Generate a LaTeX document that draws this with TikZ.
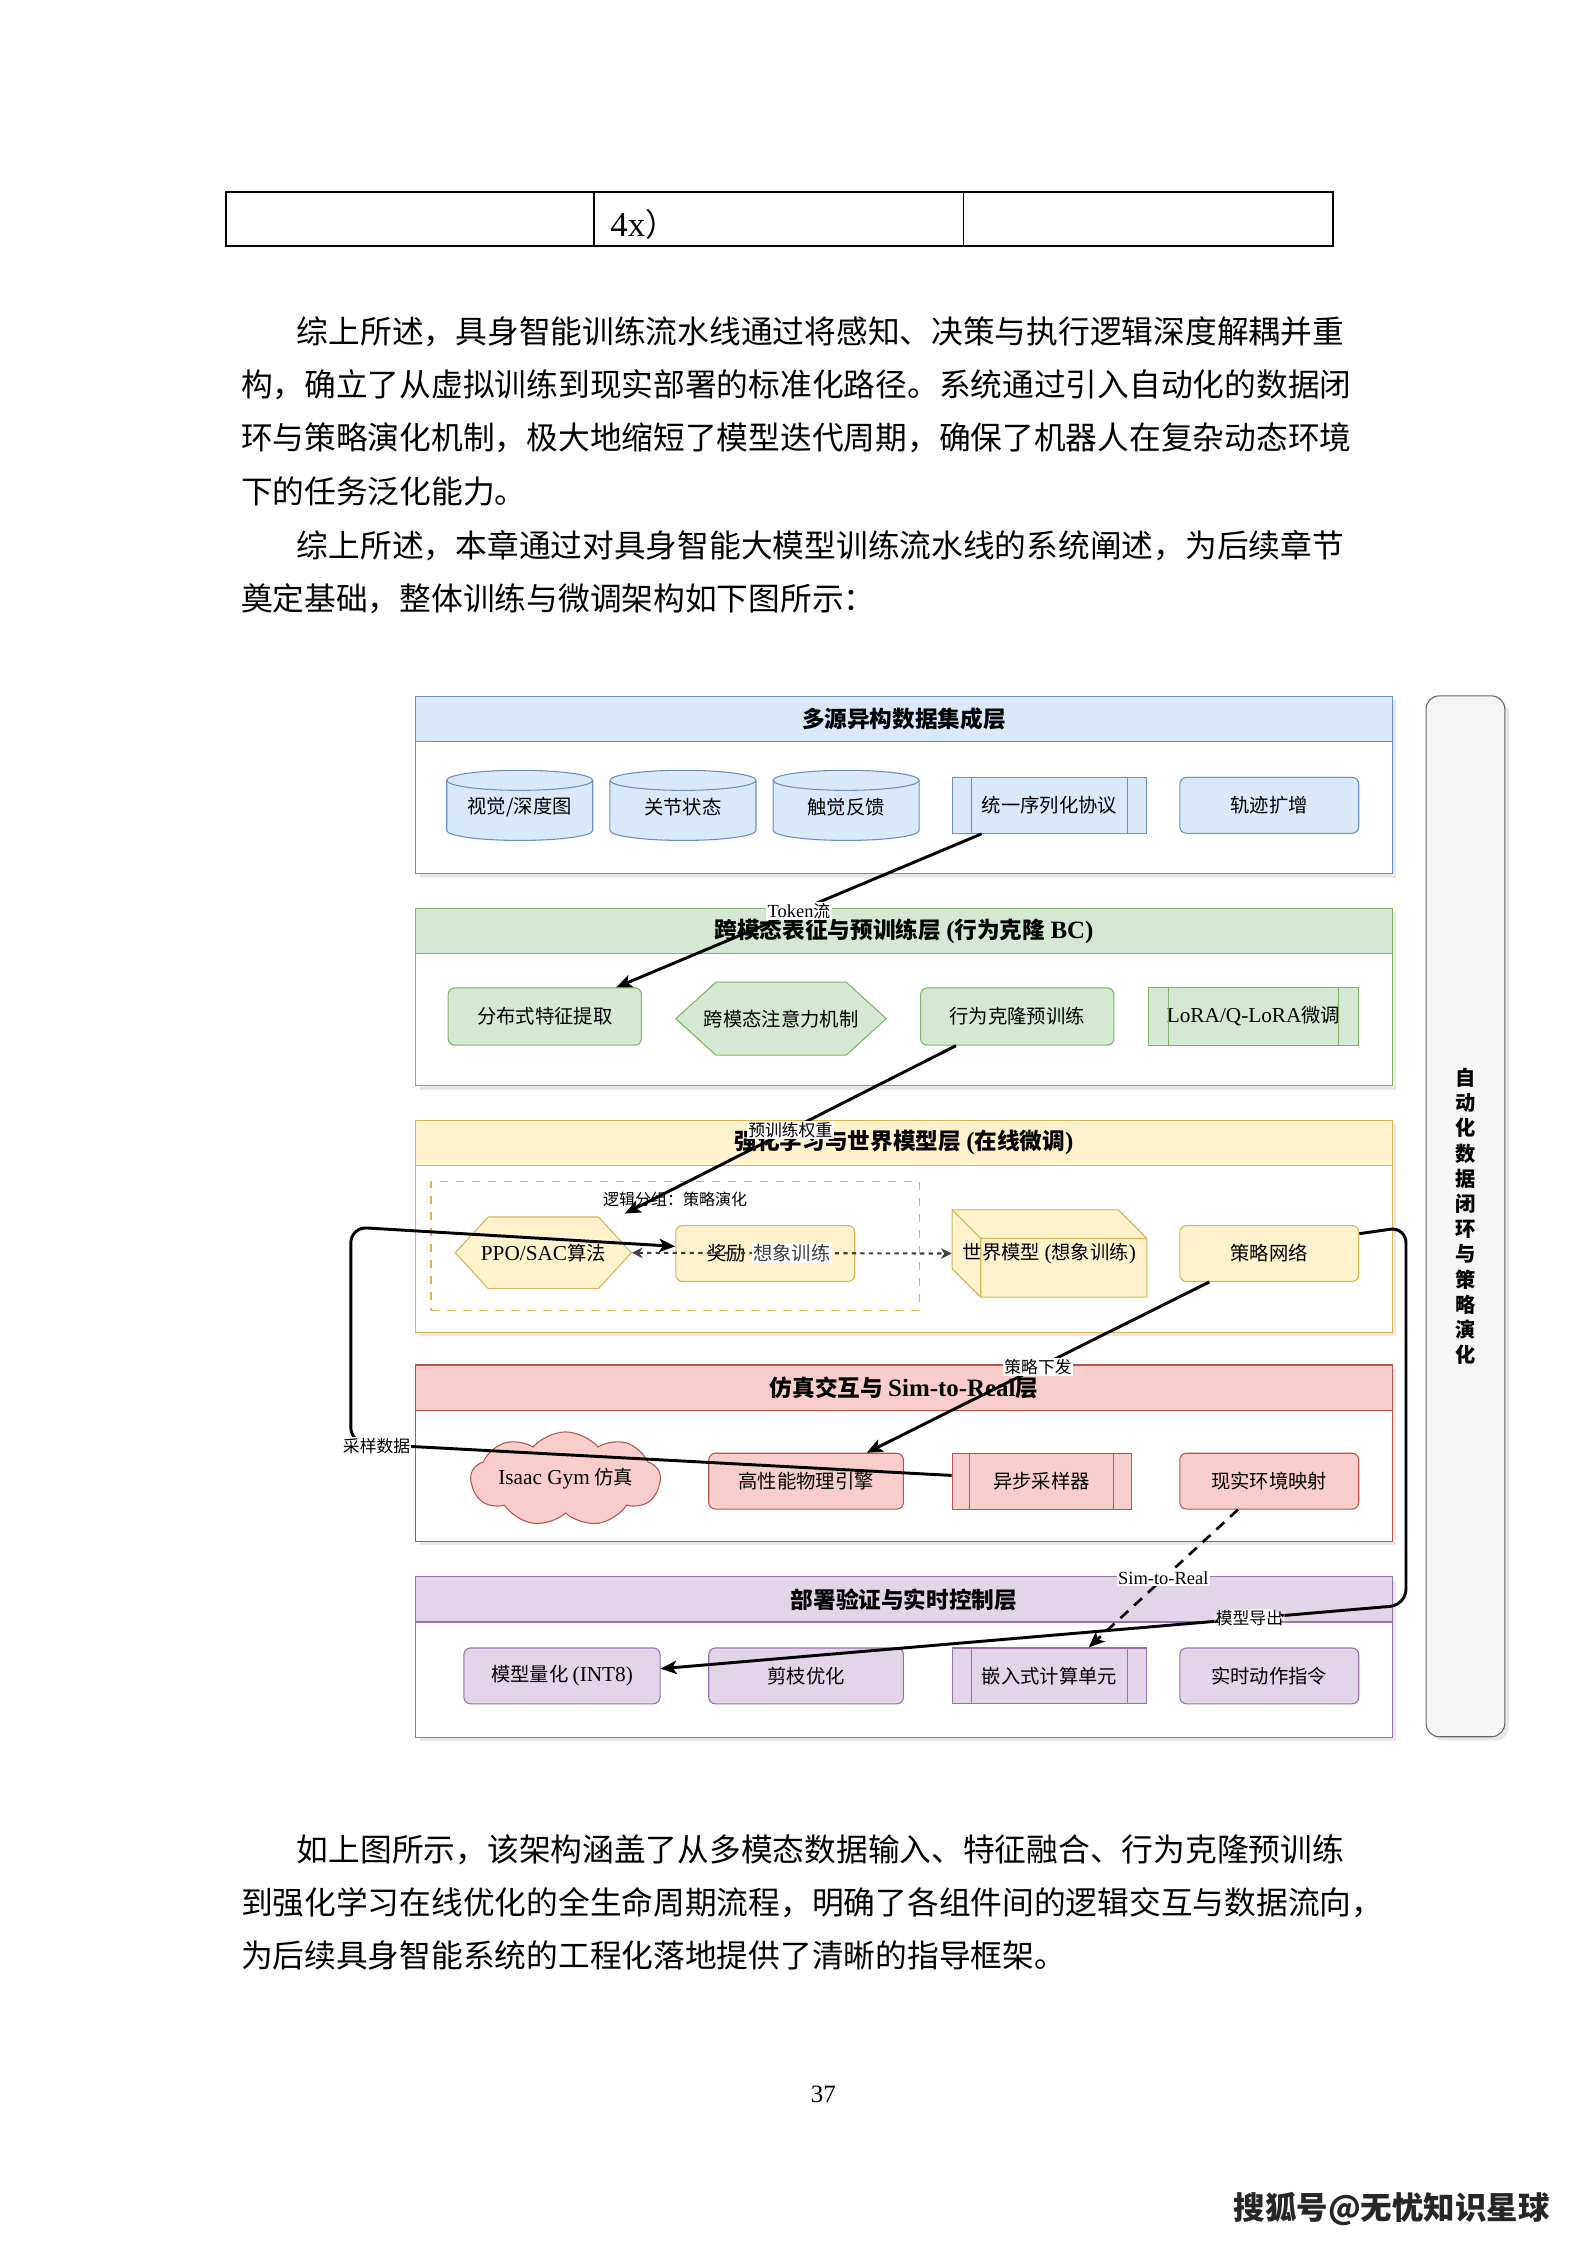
\documentclass[tikz,border=0pt]{standalone}
\usepackage{fontspec}
\setmainfont{Noto Sans CJK SC}
\newfontfamily\lat{Liberation Serif}[Scale=1.1]
\usepackage{tikz}
\usetikzlibrary{positioning,arrows.meta,shapes.symbols,calc,shadows}

\definecolor{bluF}{HTML}{DAE8FC}\definecolor{bluD}{HTML}{6C8EBF}
\definecolor{grnF}{HTML}{D5E8D4}\definecolor{grnD}{HTML}{82B366}
\definecolor{ylwF}{HTML}{FFF2CC}\definecolor{ylwD}{HTML}{D6B656}
\definecolor{redF}{HTML}{F8CECC}\definecolor{redD}{HTML}{B85450}
\definecolor{prpF}{HTML}{E1D5E7}\definecolor{prpD}{HTML}{9673A6}
\definecolor{sideF}{HTML}{F5F5F5}\definecolor{sideD}{HTML}{666666}

% data drum: name, x, y, text
\newcommand{\drum}[4]{%
  \filldraw[fill=bluF, draw=bluD] (#2-51,#3-17.5) arc (180:360:51 and 7) -- (#2+51,#3+17.5) arc (0:180:51 and 7) -- cycle;
  \draw[bluD] (#2-51,#3-17.5) arc (180:0:51 and 7);
  \node[sz={102}{49}] (#1) at (#2,#3+1.5) {#4};}
% hexagon: name, x, y, half width, half height, inset, fill, draw, text
\newcommand{\hexa}[9]{%
  \filldraw[fill=#7, draw=#8] (#2-#4,#3) -- (#2-#4+#6,#3-#5) -- (#2+#4-#6,#3-#5) -- (#2+#4,#3)
    -- (#2+#4-#6,#3+#5) -- (#2-#4+#6,#3+#5) -- cycle;
  \node[sz={2*#4}{2*#5}] (#1) at (#2,#3) {#9};}

\begin{document}
\begin{tikzpicture}[
    x=0.537pt, y=-0.537pt,
    every node/.style={font=\fontsize{7.25}{9}\selectfont, inner sep=0pt},
    sz/.style 2 args={minimum width=#1*0.537pt, minimum height=#2*0.537pt},
    txt/.style={anchor=west, font=\fontsize{11.9}{14}\selectfont},
    layer/.style={draw=#1, fill=white, anchor=north west,
                  drop shadow={shadow xshift=1.5pt, shadow yshift=-1.5pt, opacity=0.18}},
    head/.style={anchor=north west, sz={682}{31.5}, font=\fontsize{8.5}{10}\selectfont\bfseries},
    rbox/.style={draw, rounded corners=2.5pt},
    proc/.style={draw},
    lbl/.style={fill=white, font=\fontsize{6.3}{7}\selectfont, inner sep=0.5pt},
    arr/.style={-{Stealth[length=6pt, width=5pt, inset=1.5pt]}, line width=1.1pt},
    dots/.style={dash pattern=on 1.6pt off 1.6pt, line width=0.8pt, black!75}
]
\useasboundingbox[fill=white] (0,0) rectangle (1108,1568);

% page text above the figure
\draw[line width=0.6pt] (158,134) rectangle (931,172) (415,134) -- (415,172) (673,134) -- (673,172);
\node[txt] (cell) at (426,157) {{\lat 4x}）};
\node[txt] (p1a) at (207,232) {综上所述，具身智能训练流水线通过将感知、决策与执行逻辑深度解耦并重};
\node[txt] (p1b) at (168,269) {构，确立了从虚拟训练到现实部署的标准化路径。系统通过引入自动化的数据闭};
\node[txt] (p1c) at (168,306) {环与策略演化机制，极大地缩短了模型迭代周期，确保了机器人在复杂动态环境};
\node[txt] (p1d) at (168,343) {下的任务泛化能力。};
\node[txt] (p2a) at (207,381) {综上所述，本章通过对具身智能大模型训练流水线的系统阐述，为后续章节};
\node[txt] (p2b) at (168,418) {奠定基础，整体训练与微调架构如下图所示：};

% layers
\node[layer=bluD, sz={682}{124}] (L1) at (290,486) {};
\node[head, draw=bluD, fill=bluF] (L1h) at (290,486) {多源异构数据集成层};
\node[layer=grnD, sz={682}{124}] (L2) at (290,634) {};
\node[head, draw=grnD, fill=grnF] (L2h) at (290,634) {跨模态表征与预训练层 {\lat (}行为克隆 {\lat BC)}};
\node[layer=ylwD, sz={682}{148}] (L3) at (290,782) {};
\node[head, draw=ylwD, fill=ylwF] (L3h) at (290,782) {强化学习与世界模型层 {\lat (}在线微调{\lat )}};
\node[layer=redD, sz={682}{123}] (L4) at (290,953) {};
\node[head, draw=redD, fill=redF] (L4h) at (290,953) {仿真交互与 {\lat Sim-to-Real}层};
\node[layer=prpD, sz={682}{112}] (L5) at (290,1101) {};
\node[head, draw=prpD, fill=prpF] (L5h) at (290,1101) {部署验证与实时控制层};

\node[draw=sideD, fill=sideF, rounded corners=5pt, sz={55}{727}, align=center,
      font=\fontsize{7.6}{9.45}\selectfont\bfseries,
      drop shadow={shadow xshift=1.5pt, shadow yshift=-1.5pt, opacity=0.18}] (loop) at (1023.5,849.5)
      {自\\动\\化\\数\\据\\闭\\环\\与\\策\\略\\演\\化};

% layer 1
\drum{vis}{363}{562.5}{视觉/深度图}
\drum{joint}{477}{562.5}{关节状态}
\drum{touch}{591}{562.5}{触觉反馈}
\node[proc, draw=bluD, fill=bluF, sz={136}{39}] (seq) at (733,562.5) {统一序列化协议};
\node[rbox, draw=bluD, fill=bluF, sz={125}{39}] (aug) at (886.5,562.5) {轨迹扩增};

% layer 2
\node[rbox, draw=grnD, fill=grnF, sz={135}{40}] (feat) at (380.5,710) {分布式特征提取};
\hexa{attn}{545.5}{711.5}{73.5}{25.5}{28}{grnF}{grnD}{跨模态注意力机制}
\node[rbox, draw=grnD, fill=grnF, sz={135}{40}] (bc) at (710.5,710) {行为克隆预训练};
\node[proc, draw=grnD, fill=grnF, sz={147}{40}] (lora) at (875.5,710) {{\lat LoRA/Q-LoRA}微调};

% layer 3
\node[draw=ylwD, dashed, sz={341}{90}] (grp) at (471.5,870) {};
\node[font=\fontsize{6}{7}\selectfont] (grpl) at ($(grp.north)+(0,13)$) {逻辑分组：策略演化};
\hexa{ppo}{379.5}{875}{61.5}{25}{23}{ylwF}{ylwD}{{\lat PPO/SAC}算法}
\node[rbox, draw=ylwD, fill=ylwF, sz={125}{39}] (rew) at (534.5,875.5) {奖励\phantom{想象训练}};
\filldraw[fill=ylwF, draw=ylwD] (665,845) -- (781,845) -- (801,865) -- (801,906) -- (685,906) -- (665,886) -- cycle;
\draw[ylwD] (665,845) -- (685,865) -- (801,865) (685,865) -- (685,906);
\node[sz={136}{61}] (wm) at (733,875.5) {世界模型 {\lat (}想象训练{\lat )}};
\node[rbox, draw=ylwD, fill=ylwF, sz={125}{39}] (pol) at (886.5,875.5) {策略网络};

% layer 4
\node[cloud, cloud puffs=9, cloud puff arc=100, aspect=2.8, draw=redD, fill=redF, sz={108}{32}] (isaac) at (395,1033) {{\lat Isaac Gym} 仿真};
\node[rbox, draw=redD, fill=redF, sz={136}{39}] (phy) at (563,1034.5) {高性能物理引擎};
\node[proc, draw=redD, fill=redF, sz={125}{39}] (samp) at (727.5,1034.5) {异步采样器};
\node[rbox, draw=redD, fill=redF, sz={125}{39}] (real) at (886.5,1034.5) {现实环境映射};

% layer 5
\node[rbox, draw=prpD, fill=prpF, sz={137}{39}] (quant) at (392.5,1170.5) {模型量化 {\lat (INT8)}};
\node[rbox, draw=prpD, fill=prpF, sz={136}{39}] (prune) at (563,1170.5) {剪枝优化};
\node[proc, draw=prpD, fill=prpF, sz={136}{39}] (emb) at (733,1170.5) {嵌入式计算单元};
\node[rbox, draw=prpD, fill=prpF, sz={125}{39}] (act) at (886.5,1170.5) {实时动作指令};

% inner bars of the process boxes
\foreach \n/\c in {seq/bluD, lora/grnD, samp/redD, emb/prpD}{
  \draw[\c] ($(\n.north west)!0.1!(\n.north east)$) -- ($(\n.south west)!0.1!(\n.south east)$);
  \draw[\c] ($(\n.north east)!0.1!(\n.north west)$) -- ($(\n.south east)!0.1!(\n.south west)$);
}

% connectors
\draw[arr] ($(seq.south west)+(21,0)$) -- node[lbl]{{\lat Token}流} ($(feat.north east)+(-18,0)$);
\draw[arr] ($(bc.south west)+(25,0)$) -- node[lbl]{预训练权重} ($(ppo.north east)+(-5,-2)$);
\draw[dots, {Stealth[length=4pt, width=4pt]}-{Stealth[length=4pt, width=4pt]}] (ppo.east) -- node[fill=white, inner sep=0.5pt]{想象训练} (wm.west);
\draw[arr] ($(pol.south west)+(21,0)$) -- node[lbl]{策略下发} ($(phy.north east)+(-26,0)$);
\draw[arr, line width=1pt, dash pattern=on 4pt off 3pt] ($(real.south west)+(41,0)$) -- node[lbl]{{\lat Sim-to-Real}} ($(emb.north east)+(-41,0)$);

\coordinate (sw) at (245,1008);
\coordinate (nw) at (245,857);
\draw[arr, rounded corners=6pt] ($(samp.west)+(0,-4)$) -- (sw) -- (nw) -- ($(rew.west)+(0,-5)$);
\node[lbl] (samplbl) at (263,1010) {采样数据};

\coordinate (ne) at (982,857);
\coordinate (se) at (982,1121);
\draw[arr, rounded corners=6pt] ($(pol.north east)+(0,6)$) -- (ne) -- (se) -- node[lbl, pos=0.21]{模型导出} ($(quant.east)+(0,-5)$);

% page text below the figure
\node[txt] (p3a) at (207,1292) {如上图所示，该架构涵盖了从多模态数据输入、特征融合、行为克隆预训练};
\node[txt] (p3b) at (168,1329) {到强化学习在线优化的全生命周期流程，明确了各组件间的逻辑交互与数据流向，};
\node[txt] (p3c) at (168,1366) {为后续具身智能系统的工程化落地提供了清晰的指导框架。};
\node[font=\lat\fontsize{8.5}{10}\selectfont] (pg) at (575,1463) {37};
\node[font=\fontsize{11.8}{13}\selectfont\bfseries, text=black!85] (mark) at (972,1543) {搜狐号@无忧知识星球};
\end{tikzpicture}
\end{document}
